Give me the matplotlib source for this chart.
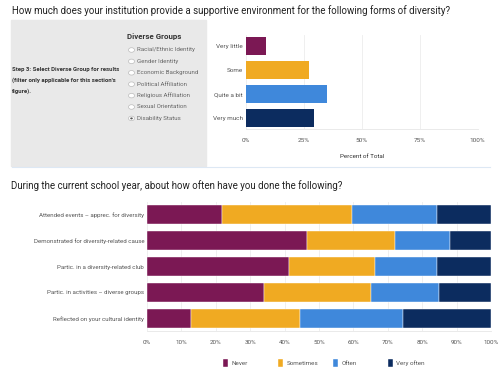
import matplotlib.pyplot as plt
from matplotlib.patches import Rectangle, Circle

plt.rcParams['font.family'] = ['Roboto', 'DejaVu Sans']

W, H = 500, 379

# top chart data
support_levels = ['Very little', 'Some', 'Quite a bit', 'Very much']
support_pct = [8.6, 27.1, 35.0, 29.3]

# filter panel
groups = ['Racial/Ethnic Identity', 'Gender Identity', 'Economic Background',
          'Political Affiliation', 'Religious Affiliation', 'Sexual Orientation',
          'Disability Status']
selected = 'Disability Status'

# bottom chart data
activities = ['Attended events \u2013 apprec. for diversity',
              'Demonstrated for diversity-related cause',
              'Partic. in a diversity-related club',
              'Partic. in activities \u2013 diverse groups',
              'Reflected on your cultural identity']
never = [21.7, 46.4, 41.2, 34.1, 12.7]
sometimes = [37.8, 25.7, 25.0, 31.0, 31.8]
often = [24.7, 16.1, 18.1, 19.8, 29.8]
very_often = [15.8, 11.8, 15.7, 15.1, 25.7]
freq_labels = ['Never', 'Sometimes', 'Often', 'Very often']

purple = '#7b1854'
orange = '#f0aa22'
blue = '#3f88db'
navy = '#0c2c5f'
txt = '#555555'
grid = '#ececec'


def axes_px(fig, x0, y0, x1, y1):
    return fig.add_axes([x0 / W, 1 - y1 / H, (x1 - x0) / W, (y1 - y0) / H])


fig = plt.figure(figsize=(W / 100, H / 100), dpi=100)

fig.text(12 / W, 1 - 11 / H, 'How much does your institution provide a supportive environment '
         'for the following forms of diversity?', fontsize=7.0, va='center', color='#222222')
fig.text(11 / W, 1 - 186 / H, 'During the current school year, about how often have you done '
         'the following?', fontsize=7.0, va='center', color='#222222')

# gray filter panel
fig.patches.append(Rectangle((11 / W, 1 - 166 / H), 195 / W, 146 / H,
                             transform=fig.transFigure, color='#e9e9e9', zorder=0))
fig.text(127 / W, 1 - 37 / H, 'Diverse Groups', fontsize=5.7, fontweight='bold',
         va='center', color='#333333')
for i, g in enumerate(groups):
    y = 50 + i * 11.4
    fig.patches.append(Circle((131.5 / W, 1 - y / H), 3 / W, transform=fig.transFigure,
                              facecolor='white', edgecolor='#bbbbbb', lw=0.5))
    if g == selected:
        fig.patches.append(Circle((131.5 / W, 1 - y / H), 1.3 / W, transform=fig.transFigure,
                                  facecolor='#555555', edgecolor='none'))
    fig.text(137 / W, 1 - y / H, g, fontsize=4.4, va='center', color='#666666')
for j, line in enumerate(['Step 3: Select Diverse Group for results',
                          "(filter only applicable for this section's",
                          'figure).']):
    fig.text(12 / W, 1 - (69 + j * 11) / H, line, fontsize=4.3, fontweight='bold',
             va='center', color='#333333')

# separator
fig.add_artist(plt.Line2D([12 / W, 490 / W], [1 - 166.7 / H, 1 - 166.7 / H],
                          color='#dde8f4', lw=0.8))

# top bar chart
ax1 = axes_px(fig, 245.7, 35, 477.7, 129.3)
ax1.barh(range(4), support_pct, height=0.76, color=[purple, orange, blue, navy])
ax1.set_xlim(0, 100)
ax1.set_ylim(3.48, -0.47)
ax1.set_xticks([0, 25, 50, 75, 100])
ax1.set_xticklabels(['0%', '25%', '50%', '75%', '100%'])
ax1.set_yticks(range(4))
ax1.set_yticklabels(support_levels)
ax1.set_xlabel('Percent of Total', fontsize=4.5, color='#333333', labelpad=8)
ax1.xaxis.grid(True, color=grid, lw=0.6)
ax1.set_axisbelow(True)

# bottom stacked bars
ax2 = axes_px(fig, 147, 201.8, 491, 331.3)
left = [0] * 5
bars = []
for vals, col, lab in zip([never, sometimes, often, very_often],
                          [purple, orange, blue, navy], freq_labels):
    bars.append(ax2.barh(range(5), vals, left=left, height=0.73, color=col, label=lab,
                         edgecolor='white', linewidth=0.3))
    left = [a + b for a, b in zip(left, vals)]
ax2.set_xlim(0, 100)
ax2.set_ylim(4.5, -0.5)
ax2.set_xticks(range(0, 101, 10))
ax2.set_xticklabels([f'{v}%' for v in range(0, 101, 10)])
ax2.set_yticks(range(5))
ax2.set_yticklabels(activities)
ax2.xaxis.grid(True, color=grid, lw=0.6)
ax2.set_axisbelow(True)

for ax in (ax1, ax2):
    for s in ['top', 'right', 'left']:
        ax.spines[s].set_visible(False)
    ax.spines['bottom'].set_color('#e6e6e6')
    ax.spines['bottom'].set_linewidth(0.6)
    ax.tick_params(length=0, labelsize=4.5, labelcolor=txt)
    ax.tick_params(axis='x', pad=6)
    ax.tick_params(axis='y', pad=2)
ax1.tick_params(labelsize=4.6)
ax2.tick_params(axis='y', labelsize=4.4)

# legend items spaced evenly like the Tableau legend
for k, (b, lab) in enumerate(zip(bars, freq_labels)):
    fig.legend([b], [lab], loc='center left',
               bbox_to_anchor=((217 + 55 * k) / W, 1 - 363 / H), frameon=False,
               fontsize=4.5, handlelength=0.9, handleheight=1.5, handletextpad=0.5,
               labelcolor=txt)

fig.savefig('out.png', dpi=100)
